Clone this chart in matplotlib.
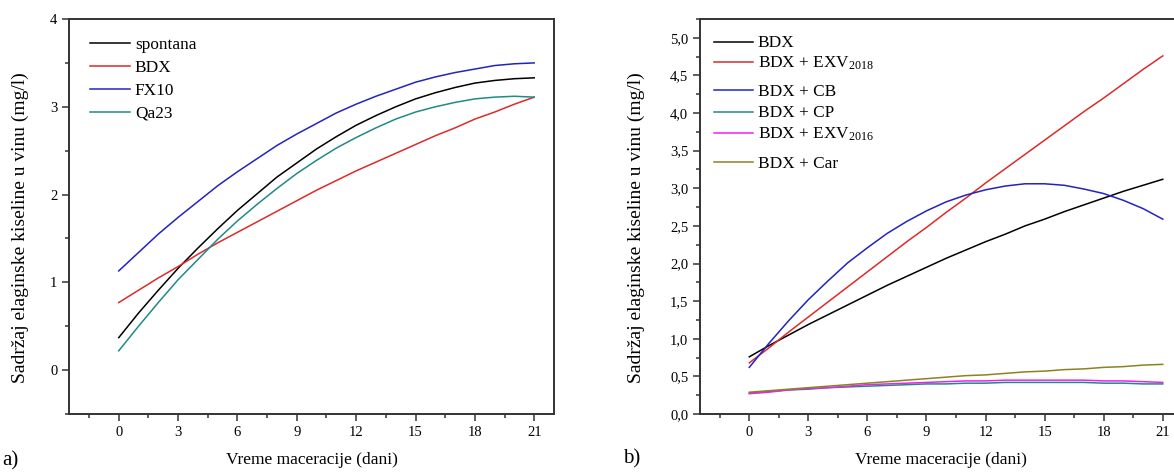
import numpy as np
import matplotlib
matplotlib.use("Agg")
import matplotlib.pyplot as plt
from matplotlib.lines import Line2D
from matplotlib.transforms import offset_copy
from matplotlib.ticker import MultipleLocator, FuncFormatter

plt.rcParams['font.family'] = ['Liberation Serif', 'DejaVu Serif']
plt.rcParams['mathtext.fontset'] = 'custom'
plt.rcParams['mathtext.rm'] = 'Liberation Serif'
plt.rcParams['mathtext.it'] = 'Liberation Serif:italic'

days = list(range(22))

# panel a) - sojevi kvasca
spontana = [0.37, 0.65, 0.91, 1.16, 1.39, 1.61, 1.82, 2.01, 2.20, 2.36, 2.52,
            2.66, 2.79, 2.90, 3.00, 3.09, 3.16, 3.22, 3.27, 3.30, 3.32, 3.33]
bdx_a = [0.77, 0.91, 1.05, 1.18, 1.32, 1.45, 1.57, 1.69, 1.81, 1.93, 2.05,
         2.16, 2.27, 2.37, 2.47, 2.57, 2.67, 2.76, 2.86, 2.94, 3.03, 3.11]
fx10 = [1.13, 1.34, 1.55, 1.74, 1.92, 2.10, 2.26, 2.41, 2.56, 2.69, 2.81,
        2.93, 3.03, 3.12, 3.20, 3.28, 3.34, 3.39, 3.43, 3.47, 3.49, 3.50]
qa23 = [0.22, 0.50, 0.77, 1.03, 1.26, 1.49, 1.70, 1.89, 2.07, 2.24, 2.39,
        2.53, 2.65, 2.76, 2.86, 2.94, 3.00, 3.05, 3.09, 3.11, 3.12, 3.11]

# panel b) - BDX sa dodacima
bdx_b = [0.76, 0.91, 1.05, 1.19, 1.32, 1.45, 1.58, 1.71, 1.83, 1.95, 2.07,
         2.18, 2.29, 2.39, 2.50, 2.59, 2.69, 2.78, 2.87, 2.96, 3.04, 3.12]
exv2018 = [0.68, 0.88, 1.09, 1.29, 1.49, 1.69, 1.89, 2.09, 2.29, 2.48, 2.68,
           2.87, 3.07, 3.26, 3.45, 3.64, 3.83, 4.02, 4.20, 4.39, 4.58, 4.76]
cb = [0.62, 0.94, 1.24, 1.52, 1.77, 2.01, 2.21, 2.40, 2.56, 2.70, 2.82,
      2.91, 2.98, 3.03, 3.06, 3.06, 3.04, 2.99, 2.93, 2.84, 2.73, 2.59]
cp = [0.28, 0.30, 0.32, 0.33, 0.35, 0.36, 0.37, 0.38, 0.39, 0.40, 0.40,
      0.41, 0.41, 0.42, 0.42, 0.42, 0.42, 0.42, 0.41, 0.41, 0.40, 0.40]
exv2016 = [0.27, 0.29, 0.32, 0.34, 0.35, 0.37, 0.39, 0.40, 0.41, 0.42, 0.43,
           0.44, 0.44, 0.45, 0.45, 0.45, 0.45, 0.45, 0.44, 0.44, 0.43, 0.42]
car = [0.29, 0.31, 0.33, 0.35, 0.37, 0.39, 0.41, 0.43, 0.45, 0.47, 0.49,
       0.51, 0.52, 0.54, 0.56, 0.57, 0.59, 0.60, 0.62, 0.63, 0.65, 0.66]

xlabel = "Vreme maceracije (dani)"
ylabel = "Sadržaj elaginske kiseline u vinu (mg/l)"

BLACK, RED, BLUE = 'black', '#dd2a2a', '#2323c0'
TEAL, MAGENTA, OLIVE = '#1f8a88', '#ee22ee', '#8a8420'

fig = plt.figure(figsize=(11.74, 4.73), dpi=100)
ax1 = fig.add_axes([0.059, 0.1247, 0.4129, 0.8351])
ax2 = fig.add_axes([0.5963, 0.1247, 0.4109, 0.8351])


def style(ax):
    for sp in ax.spines.values():
        sp.set_color('#333333')
        sp.set_linewidth(1.4)
    ax.tick_params(which='both', direction='out', top=False, right=False,
                   color='#333333', width=1.1, labelsize=10.5)
    ax.tick_params(which='major', length=5)
    ax.tick_params(which='minor', length=3)
    ax.set_xlim(-2.5, 22)
    ax.xaxis.set_minor_locator(MultipleLocator(1.5))
    ax.set_xticks([0, 3, 6, 9, 12, 15, 18, 21])
    ax.set_xlabel(xlabel, fontsize=12.5)
    ax.xaxis.set_label_coords(0.5, -0.095)


def key(ax, entries, x0, x1, xt, rows):
    # hand-placed legend: short line + label per row
    base = offset_copy(ax.transAxes, fig=fig, y=-4.1, units='points')
    for (label, color), y in zip(entries, rows):
        ax.add_line(Line2D([x0, x1], [y, y], color=color, lw=1.1,
                           transform=ax.transAxes))
        ax.text(xt, y, label, transform=base, fontsize=12.4,
                ha='left', va='baseline')


lw = 1.1
ax1.plot(days, spontana, color=BLACK, lw=lw)
ax1.plot(days, bdx_a, color=RED, lw=lw)
ax1.plot(days, fx10, color=BLUE, lw=lw)
ax1.plot(days, qa23, color=TEAL, lw=lw)
style(ax1)
ax1.set_ylim(-0.5, 4)
ax1.yaxis.set_major_locator(MultipleLocator(1))
ax1.yaxis.set_minor_locator(MultipleLocator(0.5))
ax1.set_ylabel(ylabel, fontsize=14)
ax1.yaxis.set_label_coords(-0.083, 0.471)
key(ax1, [('spontana', BLACK), ('BDX', RED), ('FX10', BLUE), ('Qa23', TEAL)],
    0.0427, 0.125, 0.1355, [0.939, 0.881, 0.823, 0.765])

ax2.plot(days, bdx_b, color=BLACK, lw=lw)
ax2.plot(days, exv2018, color=RED, lw=lw)
ax2.plot(days, cb, color=BLUE, lw=lw)
ax2.plot(days, cp, color=TEAL, lw=lw)
ax2.plot(days, exv2016, color=MAGENTA, lw=lw)
ax2.plot(days, car, color=OLIVE, lw=lw)
style(ax2)
ax2.set_ylim(0, 5.25)
ax2.yaxis.set_major_locator(MultipleLocator(0.5))
ax2.yaxis.set_minor_locator(MultipleLocator(0.25))
ax2.yaxis.set_major_formatter(FuncFormatter(lambda v, p: f"{v:.1f}".replace('.', ',')))
ax2.set_ylabel(ylabel, fontsize=14)
ax2.yaxis.set_label_coords(-0.114, 0.471)
key(ax2, [('BDX', BLACK), ('BDX + EXV$_{2018}$', RED), ('BDX + CB', BLUE),
          ('BDX + CP', TEAL), ('BDX + EXV$_{2016}$', MAGENTA), ('BDX + Car', OLIVE)],
    0.029, 0.110, 0.1196, [0.9425, 0.8919, 0.8203, 0.7653, 0.7106, 0.6372])

fig.text(0.002, 0.025, "a)", fontsize=15, ha='left', va='center')
fig.text(0.531, 0.03, "b)", fontsize=15, ha='left', va='center')

fig.savefig("out.png", dpi=100)
